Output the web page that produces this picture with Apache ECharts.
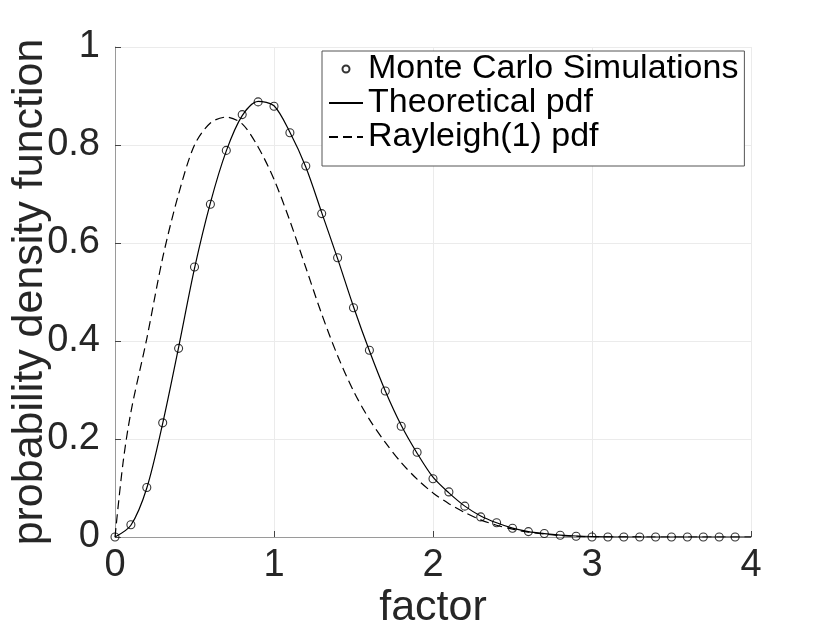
<!DOCTYPE html>
<html>
<head>
<meta charset="utf-8">
<script src="https://cdn.jsdelivr.net/npm/echarts@6/dist/echarts.min.js"></script>
<style>
  html, body { margin: 0; padding: 0; background: #fff; }
  #chart { width: 830px; height: 632px; }
</style>
</head>
<body>
<div id="chart"></div>
<script>
// Monte Carlo samples (x = factor, y = estimated pdf)
const mcX = [0, 0.1, 0.2, 0.3, 0.4, 0.5, 0.6, 0.7, 0.8, 0.9,
             1.0, 1.1, 1.2, 1.3, 1.4, 1.5, 1.6, 1.7, 1.8, 1.9,
             2.0, 2.1, 2.2, 2.3, 2.4, 2.5, 2.6, 2.7, 2.8, 2.9,
             3.0, 3.1, 3.2, 3.3, 3.4, 3.5, 3.6, 3.7, 3.8, 3.9];
const mcY = [0, 0.025, 0.101, 0.233, 0.385, 0.551, 0.679, 0.789, 0.862, 0.888,
             0.879, 0.825, 0.757, 0.66, 0.57, 0.468, 0.381, 0.298, 0.226, 0.173,
             0.119, 0.092, 0.063, 0.041, 0.029, 0.018, 0.011, 0.007, 0.0035, 0.0015,
             0, 0, 0, 0, 0, 0, 0, 0, 0, 0];

// Theoretical pdf (solid line)
const theoryX = [0, 0.1, 0.2, 0.3, 0.4, 0.5, 0.6, 0.7, 0.8, 0.9,
                 1.0, 1.1, 1.2, 1.3, 1.4, 1.5, 1.6, 1.7, 1.8, 1.9,
                 2.0, 2.1, 2.2, 2.3, 2.4, 2.5, 2.6, 2.7, 2.8, 2.9,
                 3.0, 3.2, 3.4, 3.6, 3.8, 4.0];
const theoryY = [0, 0.024, 0.1, 0.232, 0.387, 0.548, 0.682, 0.788, 0.86, 0.889,
                 0.88, 0.826, 0.755, 0.662, 0.568, 0.47, 0.38, 0.298, 0.228, 0.171,
                 0.122, 0.09, 0.063, 0.043, 0.029, 0.018, 0.011, 0.007, 0.004, 0.002,
                 0.001, 0, 0, 0, 0, 0];

// Rayleigh(1) pdf (dashed line)
const rayX = [0, 0.05, 0.1, 0.2, 0.3, 0.4, 0.5, 0.6, 0.7, 0.8, 0.9,
              1.0, 1.1, 1.2, 1.3, 1.4, 1.5, 1.6, 1.7, 1.8, 1.9,
              2.0, 2.1, 2.2, 2.3, 2.4, 2.5, 2.6, 2.7, 2.8, 2.9,
              3.0, 3.5, 4.0];
const rayY = [0, 0.15, 0.255, 0.405, 0.57, 0.70, 0.80, 0.845, 0.857, 0.843, 0.796,
              0.73, 0.645, 0.55, 0.455, 0.37, 0.298, 0.24, 0.193, 0.152, 0.118,
              0.09, 0.068, 0.05, 0.035, 0.024, 0.016, 0.01, 0.006, 0.003, 0.0015,
              0.0005, 0, 0];

const seriesNames = ['Monte Carlo Simulations', 'Theoretical pdf', 'Rayleigh(1) pdf'];

const FONT = "'Liberation Sans', Arial, Helvetica, sans-serif";
const TEXT = '#262626';

const pairs = (xs, ys) => xs.map((x, i) => [x, ys[i]]);

const chart = echarts.init(document.getElementById('chart'), null, { renderer: 'canvas' });

chart.setOption({
    backgroundColor: '#ffffff',
    animation: false,
    textStyle: { fontFamily: FONT, color: TEXT },
    grid: { left: 115, right: 79, top: 47, bottom: 95, containLabel: false, outerBoundsMode: 'none' },
    legend: {
        orient: 'vertical',
        left: 322,
        top: 51,
        padding: [1, 6, 12, 6],
        itemWidth: 34,
        itemHeight: 7,
        itemGap: 0,
        backgroundColor: '#ffffff',
        borderColor: '#555555',
        borderWidth: 1,
        borderRadius: 0,
        textStyle: { fontFamily: FONT, fontSize: 34, color: '#000', lineHeight: 30 },
        data: [
            { name: seriesNames[0] },
            { name: seriesNames[1], itemStyle: { opacity: 0 } },
            { name: seriesNames[2], itemStyle: { opacity: 0 } }
        ]
    },
    xAxis: {
        type: 'value',
        min: 0,
        max: 4,
        interval: 1,
        name: 'factor',
        nameLocation: 'middle',
        nameGap: 50,
        nameMoveOverlap: false,
        nameTextStyle: { fontFamily: FONT, fontSize: 43, color: TEXT },
        axisLine: { show: true, onZero: false, lineStyle: { color: '#9a9a9a', width: 1 } },
        axisTick: { show: true, inside: true, length: 6, lineStyle: { color: '#444', width: 1 } },
        axisLabel: { fontFamily: FONT, fontSize: 38, color: TEXT, margin: 10 },
        splitLine: { show: true, lineStyle: { color: '#ebebeb', width: 1 } }
    },
    yAxis: {
        type: 'value',
        min: 0,
        max: 1,
        interval: 0.2,
        name: 'probability density function',
        nameLocation: 'middle',
        nameGap: 63,
        nameMoveOverlap: false,
        nameTextStyle: { fontFamily: FONT, fontSize: 43, color: TEXT },
        axisLine: { show: true, lineStyle: { color: '#9a9a9a', width: 1 } },
        axisTick: { show: true, inside: true, length: 6, lineStyle: { color: '#444', width: 1 } },
        axisLabel: { fontFamily: FONT, fontSize: 38, color: TEXT, margin: 15 },
        splitLine: { show: true, lineStyle: { color: '#ebebeb', width: 1 } }
    },
    series: [
        {
            name: seriesNames[0],
            type: 'scatter',
            data: pairs(mcX, mcY),
            symbol: 'circle',
            symbolSize: 8,
            itemStyle: { color: 'rgba(255,255,255,0)', borderColor: '#000', borderWidth: 1.1 },
            z: 5
        },
        {
            name: seriesNames[1],
            type: 'line',
            data: pairs(theoryX, theoryY),
            smooth: 0.3,
            showSymbol: false,
            symbol: 'none',
            lineStyle: { color: '#000', width: 1.2, type: 'solid' },
            itemStyle: { color: '#000' },
            z: 3
        },
        {
            name: seriesNames[2],
            type: 'line',
            data: pairs(rayX, rayY),
            smooth: 0.3,
            showSymbol: false,
            symbol: 'none',
            lineStyle: { color: '#000', width: 1.2, type: [9, 5] },
            itemStyle: { color: '#000' },
            z: 2
        }
    ]
});

window.addEventListener('resize', () => chart.resize());
</script>
</body>
</html>
